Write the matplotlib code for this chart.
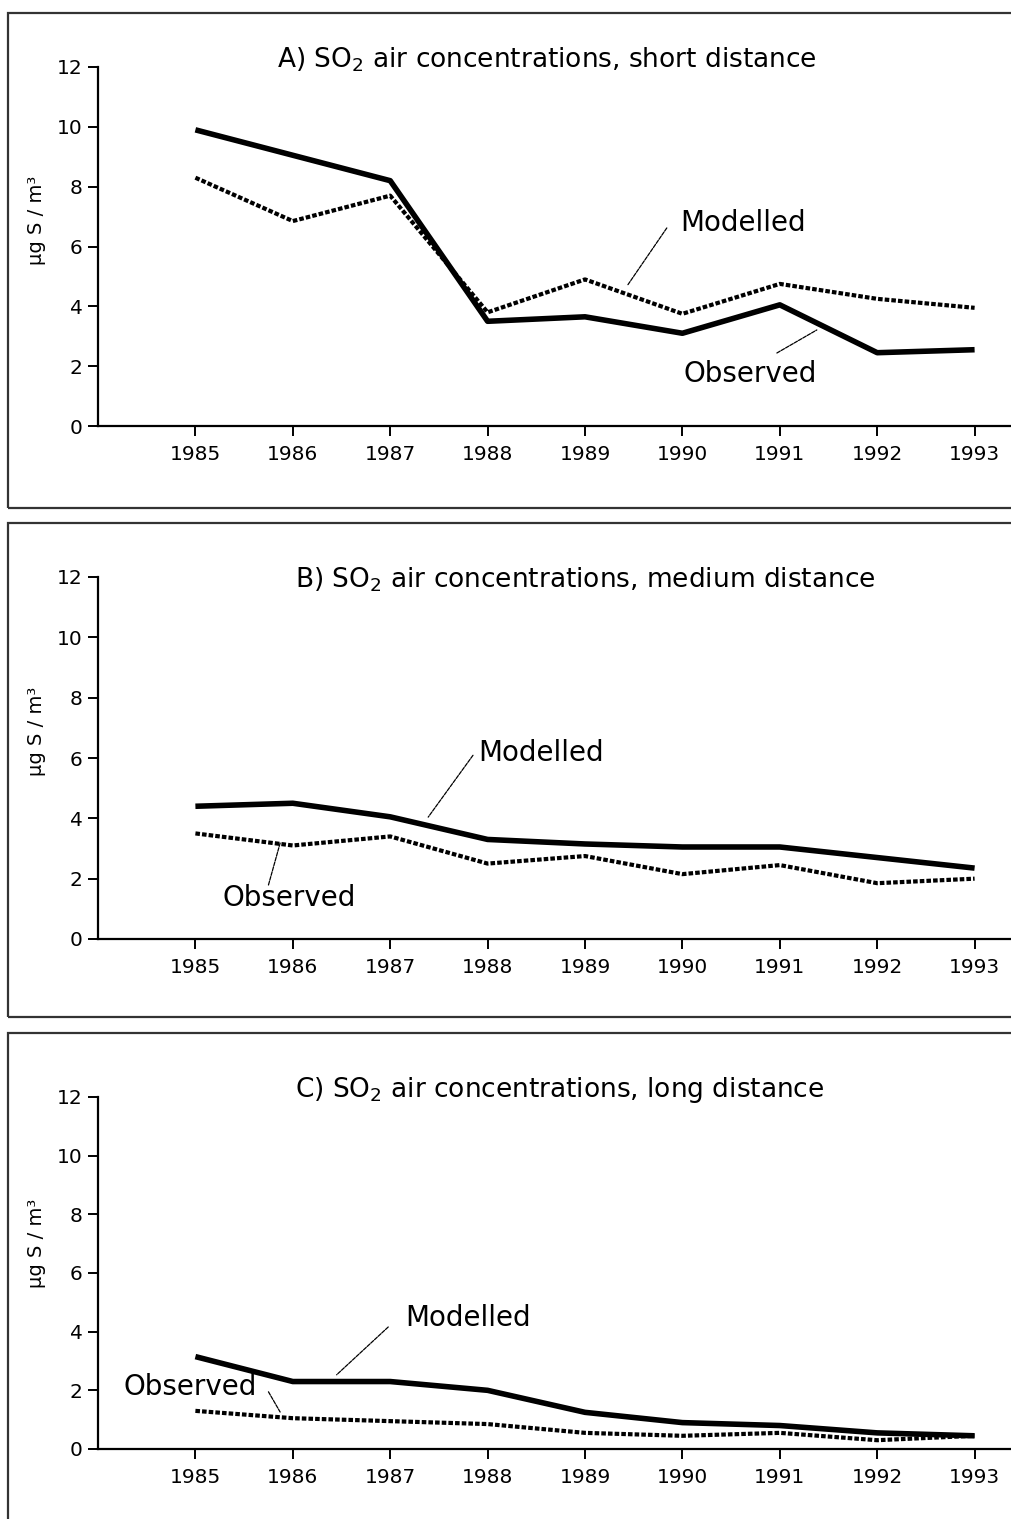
import matplotlib

matplotlib.use("Agg")
import matplotlib.pyplot as plt
from matplotlib.patches import Rectangle

plt.rcParams["font.family"] = ["DejaVu Sans"]
plt.rcParams["mathtext.default"] = "regular"

years = [1985, 1986, 1987, 1988, 1989, 1990, 1991, 1992, 1993]

# panel A: short distance
short_observed = [9.9, 9.05, 8.2, 3.5, 3.65, 3.1, 4.05, 2.45, 2.55]
short_modelled = [8.3, 6.85, 7.7, 3.8, 4.9, 3.75, 4.75, 4.25, 3.95]

# panel B: medium distance
medium_modelled = [4.4, 4.5, 4.05, 3.3, 3.15, 3.05, 3.05, 2.7, 2.35]
medium_observed = [3.5, 3.1, 3.4, 2.5, 2.75, 2.15, 2.45, 1.85, 2.0]

# panel C: long distance
long_modelled = [3.15, 2.3, 2.3, 2.0, 1.25, 0.9, 0.8, 0.55, 0.45]
long_observed = [1.3, 1.05, 0.95, 0.85, 0.55, 0.45, 0.55, 0.3, 0.45]

titles = [
    "A) SO$_2$ air concentrations, short distance",
    "B) SO$_2$ air concentrations, medium distance",
    "C) SO$_2$ air concentrations, long distance",
]

W, H = 1011, 1519


def fx(px):
    return px / W


def fy(py):
    return 1 - py / H


def draw_panel(fig, box, axes_px, title_px, ylabel_py, solid, dotted, title, notes):
    # outer frame around the panel
    bx0, by0, bx1, by1 = box
    fig.patches.append(
        Rectangle((fx(bx0), fy(by1)), fx(bx1 - bx0), (by1 - by0) / H,
                  transform=fig.transFigure, fill=False, edgecolor="#333333",
                  linewidth=1.6, zorder=0)
    )

    top, bottom = axes_px
    ax = fig.add_axes([fx(98), fy(bottom), fx(W - 98), (bottom - top) / H])
    ax.plot(years, solid, color="black", lw=4.0, solid_capstyle="butt", zorder=3)
    ax.plot(years, dotted, color="black", lw=3.0, linestyle=(0, (1.1, 0.5)),
            dash_capstyle="butt", zorder=3)

    ax.set_xlim(1984, 1984 + (W - 98) / 97.4)
    ax.set_ylim(0, 12)
    ax.set_xticks(years)
    ax.set_yticks(range(0, 13, 2))
    ax.spines["top"].set_visible(False)
    ax.spines["right"].set_visible(False)
    for side in ("left", "bottom"):
        ax.spines[side].set_linewidth(1.6)
    ax.tick_params(axis="x", direction="out", length=7, width=1.4, pad=7, labelsize=14.5)
    ax.tick_params(axis="y", direction="out", length=7, width=1.4, pad=4, labelsize=14.5)

    fig.text(fx(title_px[0]), fy(title_px[1]), title, ha="center", va="center",
             fontsize=19)
    fig.text(fx(37), fy(ylabel_py), "µg S / m³", rotation=90, ha="center",
             va="center", fontsize=14)

    for label, xy, xytext, text_xy in notes:
        ax.annotate("", xy=xy, xytext=xytext,
                    arrowprops=dict(arrowstyle="-", color="black", lw=0.9,
                                    linestyle=(0, (3, 1)), shrinkA=0, shrinkB=0))
        ax.text(text_xy[0], text_xy[1], label, ha="left", va="center", fontsize=20)
    return ax


fig = plt.figure(figsize=(W / 100, H / 100), dpi=100)

draw_panel(
    fig, (8, 13, 1030, 508), (67, 426), (547, 60), 220,
    short_observed, short_modelled, titles[0],
    [
        ("Modelled", (1989.44, 4.72), (1989.84, 6.62), (1989.98, 6.8)),
        ("Observed", (1991.38, 3.21), (1990.97, 2.44), (1990.01, 1.75)),
    ],
)

draw_panel(
    fig, (8, 523, 1030, 1017), (577, 939), (585, 580), 731,
    medium_modelled, medium_observed, titles[1],
    [
        ("Modelled", (1987.39, 4.04), (1987.85, 6.09), (1987.9, 6.16)),
        ("Observed", (1985.87, 3.18), (1985.75, 1.79), (1985.28, 1.36)),
    ],
)

draw_panel(
    fig, (8, 1033, 1030, 1540), (1097, 1449), (560, 1090), 1243,
    long_modelled, long_observed, titles[2],
    [
        ("Modelled", (1986.45, 2.53), (1986.98, 4.16), (1987.15, 4.47)),
        ("Observed", (1985.87, 1.26), (1985.75, 1.95), (1984.26, 2.12)),
    ],
)

fig.savefig("out.png", dpi=100)
